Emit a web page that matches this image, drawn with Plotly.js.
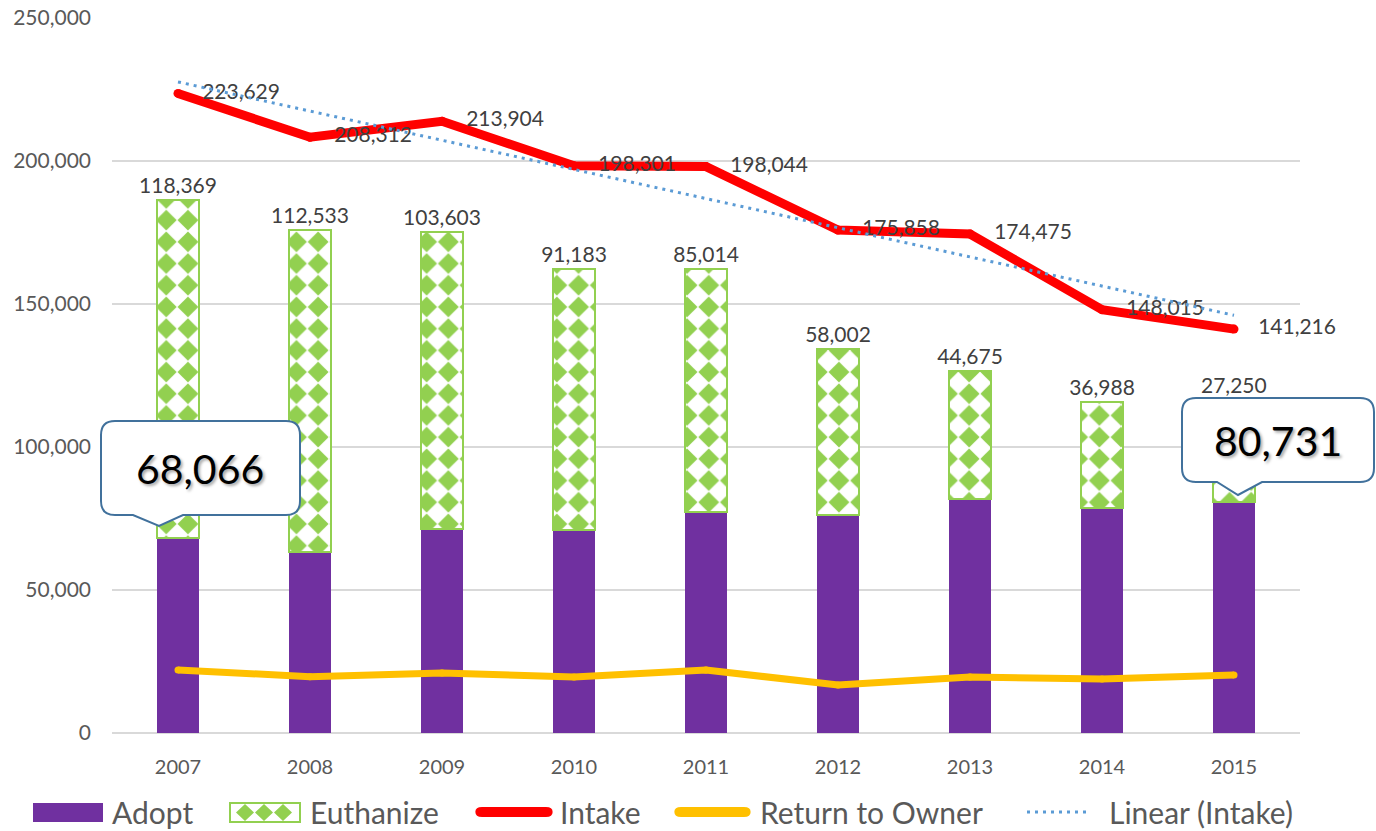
<!DOCTYPE html>
<html><head><meta charset="utf-8">
<script src="https://cdn.plot.ly/plotly-3.0.1.min.js"></script>
<style>html,body{margin:0;padding:0;background:#fff}#chart{width:1376px;height:831px}</style>
</head><body><div id="chart"></div>
<script>
// ---- data ----
const years = ['2007','2008','2009','2010','2011','2012','2013','2014','2015'];
const adopt = [68066, 63300, 71400, 71100, 77400, 76200, 81800, 78700, 80731];
const euthanize = [118369, 112533, 103603, 91183, 85014, 58002, 44675, 36988, 27250];
const intake = [223629, 208312, 213904, 198301, 198044, 175858, 174475, 148015, 141216];
const returnToOwner = [22000, 19700, 21000, 19600, 22000, 16800, 19600, 18900, 20300];
const trendYears = ['2007', '2015'];
const trendIntake = [227650, 146070];
const legendLabels = ['Adopt', 'Euthanize', 'Intake', 'Return to Owner', 'Linear (Intake)'];
const calloutIndex = [0, 8];

// ---- helpers (pixel -> paper) ----
const PL = 112, PR = 1300, PT = 18, PB = 733;
const X = px => (px - PL) / (PR - PL);
const Y = py => (PB - py) / (PB - PT);
const fmt = v => v.toLocaleString('en-US');

const FONT = 'Lato, "Open Sans", sans-serif';
const purple = '#7030A0', green = '#92D050', red = '#FF0000', gold = '#FFC000', blue = '#5B9BD5';

const lastIdx = years.length - 1;
const data = [
  { type: 'bar', name: legendLabels[0], x: years, y: adopt,
    marker: { color: purple, line: { width: 0 } }, hoverinfo: 'skip' },
  { type: 'bar', name: legendLabels[1], x: years, y: euthanize,
    marker: { color: '#ffffff', line: { color: green, width: 2 },
      pattern: { shape: '.', fgcolor: green, bgcolor: '#ffffff', size: 21.7, solidity: 0.5, fillmode: 'replace' } },
    text: euthanize.map((v, i) => i === lastIdx ? '' : fmt(v)), textposition: 'outside', constraintext: 'none', cliponaxis: false,
    textfont: { family: FONT, size: 21, color: '#404040' }, hoverinfo: 'skip' },
  { type: 'scatter', name: legendLabels[3], x: years, y: returnToOwner, mode: 'lines+markers',
    line: { color: gold, width: 7 }, marker: { size: 7, color: gold, line: { width: 0 } }, hoverinfo: 'skip' },
  { type: 'scatter', name: legendLabels[2], x: years, y: intake, mode: 'markers',
    marker: { size: 9, color: red, line: { width: 0 } }, hoverinfo: 'skip' },
  { type: 'scatter', name: legendLabels[2], x: years, y: intake, mode: 'lines+markers+text',
    line: { color: red, width: 9 }, marker: { size: 37, opacity: 0, color: red },
    text: intake.map(fmt), textposition: 'middle right', cliponaxis: false,
    textfont: { family: FONT, size: 21, color: '#404040' }, hoverinfo: 'skip' },
  { type: 'scatter', name: legendLabels[4], x: trendYears, y: trendIntake, mode: 'lines',
    line: { color: blue, width: 3, dash: '3px,5px' }, hoverinfo: 'skip' }
];

function calloutPath(L, R, T, B, tl, tip, tr, r) {
  const p = (x, y) => X(x) + ',' + Y(y);
  return 'M' + p(L + r, T) + 'L' + p(R - r, T) + 'Q' + p(R, T) + ' ' + p(R, T + r) +
    'L' + p(R, B - r) + 'Q' + p(R, B) + ' ' + p(R - r, B) +
    'L' + p(tr, B) + 'L' + p(tip[0], tip[1]) + 'L' + p(tl, B) +
    'L' + p(L + r, B) + 'Q' + p(L, B) + ' ' + p(L, B - r) +
    'L' + p(L, T + r) + 'Q' + p(L, T) + ' ' + p(L + r, T) + 'Z';
}
function pillPath(x0, x1, yc, h) {
  const r = h / 2, p = (x, y) => X(x) + ',' + Y(y);
  return 'M' + p(x0 + r, yc - r) + 'L' + p(x1 - r, yc - r) + 'Q' + p(x1 + r * 0.33, yc - r) + ' ' + p(x1 + r * 0.33, yc) +
    'Q' + p(x1 + r * 0.33, yc + r) + ' ' + p(x1 - r, yc + r) + 'L' + p(x0 + r, yc + r) +
    'Q' + p(x0 - r * 0.33, yc + r) + ' ' + p(x0 - r * 0.33, yc) + 'Q' + p(x0 - r * 0.33, yc - r) + ' ' + p(x0 + r, yc - r) + 'Z';
}
function diamonds(centers, yc, hw, hh) {
  return centers.map(c => 'M' + X(c) + ',' + Y(yc - hh) + 'L' + X(c + hw) + ',' + Y(yc) + 'L' + X(c) + ',' + Y(yc + hh) + 'L' + X(c - hw) + ',' + Y(yc) + 'Z').join('');
}

const LY = 812;
const shapes = [
  // callouts
  { type: 'path', xref: 'paper', yref: 'paper', layer: 'above', fillcolor: '#ffffff', line: { color: '#41719C', width: 2 },
    path: calloutPath(101, 300, 421, 515, 133, [159, 526], 183, 14) },
  { type: 'path', xref: 'paper', yref: 'paper', layer: 'above', fillcolor: '#ffffff', line: { color: '#41719C', width: 2 },
    path: calloutPath(1182, 1374, 398, 482, 1217, [1238, 495], 1262, 14) },
  // legend swatches
  { type: 'rect', xref: 'paper', yref: 'paper', x0: X(33), x1: X(103), y0: Y(822), y1: Y(803), fillcolor: purple, line: { width: 0 } },
  { type: 'rect', xref: 'paper', yref: 'paper', x0: X(230), x1: X(300), y0: Y(822), y1: Y(803), fillcolor: '#ffffff', line: { color: green, width: 2 } },
  { type: 'path', xref: 'paper', yref: 'paper', fillcolor: green, line: { width: 0 }, path: diamonds([245, 264, 283], 812.5, 9, 8.5) },
  { type: 'path', xref: 'paper', yref: 'paper', fillcolor: red, line: { width: 0 }, path: pillPath(477, 551, LY, 10) },
  { type: 'path', xref: 'paper', yref: 'paper', fillcolor: gold, line: { width: 0 }, path: pillPath(676, 749, LY, 10) },
  { type: 'line', xref: 'paper', yref: 'paper', x0: X(1027), x1: X(1089), y0: Y(LY), y1: Y(LY), line: { color: blue, width: 3, dash: '3px,5px' } }
];

const legendX = [110, 308, 558, 758, 1107];
const annotations = legendLabels.map((t, i) => ({
  xref: 'paper', yref: 'paper', x: X(legendX[i]), y: Y(LY), xanchor: 'left', yanchor: 'middle', showarrow: false,
  text: t, font: { family: FONT, size: 30, color: '#595959' }
}));
// last euthanize label sits above the callout box
annotations.push({
  xref: 'x', yref: 'y', x: lastIdx, y: adopt[lastIdx] + euthanize[lastIdx], xanchor: 'center', yanchor: 'bottom', yshift: 25,
  showarrow: false, text: fmt(euthanize[lastIdx]), font: { family: FONT, size: 21, color: '#404040' }
});
const calloutCenters = [[200, 468], [1278, 440]];
calloutIndex.forEach((idx, k) => annotations.push({
  xref: 'paper', yref: 'paper', x: X(calloutCenters[k][0]), y: Y(calloutCenters[k][1]), xanchor: 'center', yanchor: 'middle',
  showarrow: false, text: fmt(adopt[idx]),
  font: { family: FONT, size: 41, color: '#000000', shadow: '2px 2px 3px rgba(0,0,0,0.35)' }
}));

const layout = {
  width: 1376, height: 831,
  margin: { l: PL, r: 1376 - PR, t: PT, b: 831 - PB },
  barmode: 'stack', bargap: 0.682,
  paper_bgcolor: '#ffffff', plot_bgcolor: '#ffffff',
  font: { family: FONT, color: '#595959' },
  showlegend: false,
  xaxis: { type: 'category', range: [-0.5, years.length - 0.5], showgrid: false, showline: false, zeroline: false, ticks: '',
    tickfont: { family: FONT, size: 20, color: '#595959' }, ticklabelstandoff: 20 },
  yaxis: { range: [0, 250000], dtick: 50000, tickformat: ',d', gridcolor: '#D9D9D9', gridwidth: 1.5,
    zeroline: true, zerolinecolor: '#D9D9D9', zerolinewidth: 1.5, showline: false, ticks: '',
    tickfont: { family: FONT, size: 21, color: '#595959' }, ticklabelstandoff: 20 },
  shapes: shapes,
  annotations: annotations
};

const gd = document.getElementById('chart');
Plotly.newPlot(gd, data, layout, { displayModeBar: false, staticPlot: true }).then(() => {
  const NS = 'http://www.w3.org/2000/svg';
  gd.querySelectorAll('pattern').forEach(p => {
    const s = parseFloat(p.getAttribute('width'));
    p.setAttribute('y', -4);
    const el = p.querySelector('circle') || p.querySelector('path');
    if (!el || !s) return;
    const c = s / 2, r = s * 0.48;
    const path = document.createElementNS(NS, 'path');
    path.setAttribute('d', 'M' + c + ',' + (c - r) + 'L' + (c + r) + ',' + c + 'L' + c + ',' + (c + r) + 'L' + (c - r) + ',' + c + 'Z');
    path.setAttribute('fill', green);
    path.setAttribute('style', 'fill:' + green + ';stroke:none;');
    el.parentNode.replaceChild(path, el);
  });
});
</script>
</body></html>
